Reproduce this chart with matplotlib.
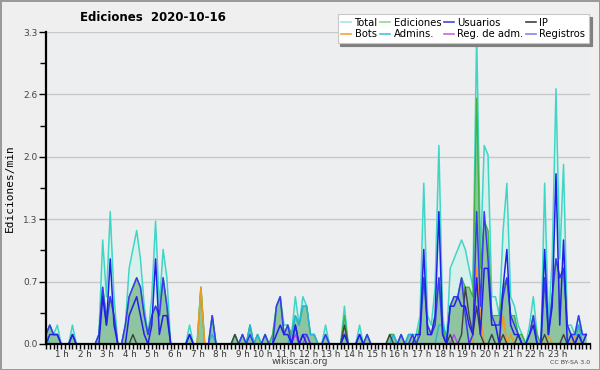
import matplotlib
matplotlib.use("Agg")
import matplotlib.pyplot as plt
from matplotlib.lines import Line2D
import numpy as np

# edits per minute, one value per 10-minute slot (6 per hour, 0 h .. 23 h)
total = [
    0.1, 0.2, 0.1, 0.2, 0.0, 0.0,
    0.0, 0.2, 0.0, 0.0, 0.0, 0.0,
    0.0, 0.0, 0.1, 1.1, 0.5, 1.4,
    0.5, 0.0, 0.0, 0.2, 0.8, 1.0,
    1.2, 0.9, 0.4, 0.1, 0.5, 1.3,
    0.4, 1.0, 0.7, 0.0, 0.0, 0.0,
    0.0, 0.0, 0.2, 0.0, 0.0, 0.6,
    0.0, 0.0, 0.3, 0.0, 0.0, 0.0,
    0.0, 0.0, 0.1, 0.0, 0.1, 0.0,
    0.2, 0.0, 0.1, 0.0, 0.1, 0.0,
    0.1, 0.4, 0.5, 0.2, 0.2, 0.1,
    0.5, 0.2, 0.5, 0.4, 0.1, 0.1,
    0.0, 0.0, 0.2, 0.0, 0.0, 0.0,
    0.0, 0.4, 0.0, 0.0, 0.0, 0.2,
    0.0, 0.1, 0.0, 0.0, 0.0, 0.0,
    0.0, 0.1, 0.1, 0.0, 0.1, 0.0,
    0.1, 0.1, 0.1, 0.3, 1.7, 0.3,
    0.2, 0.6, 2.1, 0.3, 0.0, 0.8,
    0.9, 1.0, 1.1, 1.0, 0.8, 0.6,
    3.3, 0.9, 2.1, 2.0, 0.5, 0.5,
    0.3, 1.2, 1.7, 0.5, 0.4, 0.2,
    0.1, 0.0, 0.2, 0.5, 0.1, 0.0,
    1.7, 0.2, 0.9, 2.7, 0.9, 1.9,
    0.2, 0.2, 0.1, 0.3, 0.1, 0.1,
]
ediciones = [
    0.1, 0.2, 0.1, 0.1, 0.0, 0.0,
    0.0, 0.1, 0.0, 0.0, 0.0, 0.0,
    0.0, 0.0, 0.1, 0.6, 0.3, 0.5,
    0.3, 0.0, 0.0, 0.2, 0.5, 0.6,
    0.7, 0.6, 0.3, 0.1, 0.3, 0.4,
    0.3, 0.7, 0.4, 0.0, 0.0, 0.0,
    0.0, 0.0, 0.1, 0.0, 0.0, 0.6,
    0.0, 0.0, 0.3, 0.0, 0.0, 0.0,
    0.0, 0.0, 0.1, 0.0, 0.1, 0.0,
    0.2, 0.0, 0.1, 0.0, 0.1, 0.0,
    0.1, 0.4, 0.5, 0.1, 0.2, 0.1,
    0.3, 0.2, 0.4, 0.4, 0.1, 0.1,
    0.0, 0.0, 0.1, 0.0, 0.0, 0.0,
    0.0, 0.3, 0.0, 0.0, 0.0, 0.1,
    0.0, 0.1, 0.0, 0.0, 0.0, 0.0,
    0.0, 0.1, 0.1, 0.0, 0.1, 0.0,
    0.1, 0.1, 0.0, 0.2, 0.7, 0.2,
    0.1, 0.3, 0.7, 0.2, 0.0, 0.4,
    0.5, 0.5, 0.7, 0.6, 0.6, 0.5,
    2.6, 0.8, 1.3, 1.2, 0.3, 0.3,
    0.3, 0.6, 0.7, 0.3, 0.3, 0.1,
    0.1, 0.0, 0.1, 0.3, 0.1, 0.0,
    0.7, 0.1, 0.5, 0.9, 0.7, 0.8,
    0.2, 0.1, 0.1, 0.2, 0.1, 0.1,
]
usuarios = [
    0.1, 0.2, 0.1, 0.1, 0.0, 0.0,
    0.0, 0.1, 0.0, 0.0, 0.0, 0.0,
    0.0, 0.0, 0.1, 0.6, 0.2, 0.5,
    0.3, 0.0, 0.0, 0.2, 0.5, 0.6,
    0.7, 0.6, 0.3, 0.1, 0.3, 0.4,
    0.3, 0.7, 0.4, 0.0, 0.0, 0.0,
    0.0, 0.0, 0.1, 0.0, 0.0, 0.0,
    0.0, 0.0, 0.3, 0.0, 0.0, 0.0,
    0.0, 0.0, 0.0, 0.0, 0.1, 0.0,
    0.1, 0.0, 0.0, 0.0, 0.1, 0.0,
    0.0, 0.4, 0.5, 0.1, 0.2, 0.0,
    0.2, 0.0, 0.1, 0.1, 0.0, 0.0,
    0.0, 0.0, 0.1, 0.0, 0.0, 0.0,
    0.0, 0.1, 0.0, 0.0, 0.0, 0.1,
    0.0, 0.1, 0.0, 0.0, 0.0, 0.0,
    0.0, 0.0, 0.0, 0.0, 0.1, 0.0,
    0.0, 0.1, 0.0, 0.1, 0.7, 0.2,
    0.1, 0.2, 0.7, 0.1, 0.0, 0.4,
    0.5, 0.5, 0.7, 0.3, 0.0, 0.1,
    1.4, 0.4, 1.4, 0.9, 0.3, 0.2,
    0.2, 0.5, 0.7, 0.3, 0.2, 0.1,
    0.0, 0.0, 0.1, 0.3, 0.0, 0.0,
    0.7, 0.1, 0.5, 0.9, 0.7, 0.8,
    0.2, 0.1, 0.1, 0.3, 0.1, 0.1,
]
registros = [
    0.0, 0.1, 0.1, 0.1, 0.0, 0.0,
    0.0, 0.1, 0.0, 0.0, 0.0, 0.0,
    0.0, 0.0, 0.0, 0.5, 0.2, 0.9,
    0.2, 0.0, 0.0, 0.0, 0.3, 0.4,
    0.5, 0.3, 0.1, 0.0, 0.2, 0.9,
    0.1, 0.3, 0.3, 0.0, 0.0, 0.0,
    0.0, 0.0, 0.1, 0.0, 0.0, 0.0,
    0.0, 0.0, 0.0, 0.0, 0.0, 0.0,
    0.0, 0.0, 0.0, 0.0, 0.0, 0.0,
    0.0, 0.0, 0.0, 0.0, 0.0, 0.0,
    0.0, 0.1, 0.2, 0.1, 0.1, 0.0,
    0.2, 0.0, 0.1, 0.0, 0.0, 0.0,
    0.0, 0.0, 0.0, 0.0, 0.0, 0.0,
    0.0, 0.1, 0.0, 0.0, 0.0, 0.1,
    0.0, 0.0, 0.0, 0.0, 0.0, 0.0,
    0.0, 0.0, 0.0, 0.0, 0.0, 0.0,
    0.0, 0.0, 0.1, 0.1, 1.0, 0.1,
    0.1, 0.3, 1.4, 0.1, 0.0, 0.4,
    0.4, 0.5, 0.4, 0.4, 0.2, 0.1,
    0.7, 0.1, 0.8, 0.8, 0.2, 0.2,
    0.0, 0.6, 1.0, 0.2, 0.1, 0.1,
    0.0, 0.0, 0.1, 0.2, 0.0, 0.0,
    1.0, 0.1, 0.4, 1.8, 0.2, 1.1,
    0.0, 0.1, 0.0, 0.1, 0.0, 0.1,
]
ip = [
    0.0, 0.0, 0.0, 0.0, 0.0, 0.0,
    0.0, 0.0, 0.0, 0.0, 0.0, 0.0,
    0.0, 0.0, 0.0, 0.0, 0.0, 0.0,
    0.0, 0.0, 0.0, 0.0, 0.0, 0.1,
    0.0, 0.0, 0.0, 0.0, 0.0, 0.0,
    0.0, 0.0, 0.0, 0.0, 0.0, 0.0,
    0.0, 0.0, 0.0, 0.0, 0.0, 0.0,
    0.0, 0.0, 0.0, 0.0, 0.0, 0.0,
    0.0, 0.0, 0.1, 0.0, 0.0, 0.0,
    0.0, 0.0, 0.0, 0.0, 0.0, 0.0,
    0.0, 0.0, 0.0, 0.0, 0.0, 0.0,
    0.0, 0.0, 0.0, 0.0, 0.0, 0.0,
    0.0, 0.0, 0.0, 0.0, 0.0, 0.0,
    0.0, 0.2, 0.0, 0.0, 0.0, 0.0,
    0.0, 0.0, 0.0, 0.0, 0.0, 0.0,
    0.0, 0.1, 0.0, 0.0, 0.0, 0.0,
    0.0, 0.0, 0.0, 0.0, 0.0, 0.0,
    0.0, 0.0, 0.0, 0.0, 0.0, 0.1,
    0.0, 0.0, 0.1, 0.6, 0.3, 0.1,
    0.4, 0.1, 0.0, 0.0, 0.1, 0.0,
    0.0, 0.1, 0.0, 0.0, 0.0, 0.1,
    0.0, 0.0, 0.0, 0.0, 0.0, 0.0,
    0.1, 0.0, 0.0, 0.0, 0.0, 0.1,
    0.0, 0.0, 0.0, 0.1, 0.0, 0.0,
]
bots = [0.0] * 41 + [0.6] + [0.0] * 72 + [0.8, 0.3] + [0.0] * 5 + [0.3, 0.0, 0.1] + [0.0] * 9 + [0.1] + [0.0] * 6 + [0.1] + [0.0] * 3
admins = [
    0.1, 0.0, 0.0, 0.0, 0.0, 0.0,
    0.0, 0.0, 0.0, 0.0, 0.0, 0.0,
    0.0, 0.0, 0.0, 0.0, 0.0, 0.0,
    0.0, 0.0, 0.0, 0.0, 0.0, 0.0,
    0.0, 0.0, 0.0, 0.0, 0.0, 0.0,
    0.0, 0.0, 0.0, 0.0, 0.0, 0.0,
    0.0, 0.0, 0.0, 0.0, 0.0, 0.0,
    0.0, 0.0, 0.1, 0.0, 0.0, 0.0,
    0.0, 0.0, 0.0, 0.0, 0.0, 0.0,
    0.2, 0.0, 0.1, 0.0, 0.0, 0.0,
    0.0, 0.0, 0.0, 0.0, 0.0, 0.1,
    0.3, 0.2, 0.4, 0.4, 0.1, 0.1,
    0.0, 0.0, 0.1, 0.0, 0.0, 0.0,
    0.0, 0.0, 0.0, 0.0, 0.0, 0.1,
    0.0, 0.0, 0.0, 0.0, 0.0, 0.0,
    0.0, 0.0, 0.1, 0.0, 0.0, 0.0,
    0.1, 0.1, 0.0, 0.0, 0.0, 0.0,
    0.0, 0.0, 0.2, 0.2, 0.1, 0.0,
    0.0, 0.0, 0.0, 0.0, 0.0, 0.0,
    0.0, 0.0, 0.0, 0.0, 0.1, 0.0,
    0.0, 0.0, 0.0, 0.0, 0.0, 0.1,
    0.0, 0.0, 0.0, 0.0, 0.0, 0.0,
    0.0, 0.0, 0.0, 0.0, 0.0, 0.0,
    0.0, 0.0, 0.0, 0.2, 0.0, 0.0,
]
reg_adm = [0.0] * 66 + [0.1, 0.0, 0.0, 0.1] + [0.0] * 38 + [0.1] + [0.0] * 35

hours = [f"{h} h" for h in range(1, 24)]

line_colors = {
    "Total": "#3fd6c6",
    "Ediciones": "#3fb43f",
    "Usuarios": "#3a3af2",
    "IP": "#404040",
    "Bots": "#f29a1a",
    "Admins.": "#22b4de",
    "Reg. de adm.": "#b445ee",
    "Registros": "#2020e8",
}
legend_colors = {
    "Total": "#a6e6e0",
    "Ediciones": "#8fd88f",
    "Usuarios": "#4646d6",
    "IP": "#404040",
    "Bots": "#f2a33c",
    "Admins.": "#3ec6da",
    "Reg. de adm.": "#d064e6",
    "Registros": "#8484f2",
}

x = np.arange(len(total))

fig = plt.figure(figsize=(6, 3.7), dpi=100, facecolor="#efefef",
                 edgecolor="#9a9a9a", linewidth=2)
ax = fig.add_axes([0.0767, 0.0703, 0.9066, 0.8432])
ax.set_facecolor("#edeef0")

ax.fill_between(x, total, color="#d8f0eb", lw=0, zorder=1)
ax.fill_between(x, ediciones, color="#8fc4a0", lw=0, zorder=2)
ax.plot(x, total, color=line_colors["Total"], lw=1.1, zorder=3)
ax.plot(x, ediciones, color=line_colors["Ediciones"], lw=1.0, zorder=4)
ax.plot(x, admins, color=line_colors["Admins."], lw=1.0, zorder=5)
ax.plot(x, reg_adm, color=line_colors["Reg. de adm."], lw=1.0, zorder=5)
ax.plot(x, bots, color=line_colors["Bots"], lw=1.1, zorder=6)
ax.plot(x, ip, color=line_colors["IP"], lw=1.0, zorder=6)
ax.plot(x, usuarios, color=line_colors["Usuarios"], lw=1.1, zorder=7)
ax.plot(x, registros, color=line_colors["Registros"], lw=1.1, zorder=8)

ymax = 3.3
ax.set_ylim(0, ymax)
ax.set_xlim(0, len(total) - 0.8)
major = np.linspace(0, ymax, 6)
ax.set_yticks(major)
ax.set_yticklabels([f"{v:.1f}" for v in major])
ax.set_yticks(major[:-1] + ymax / 10, minor=True)
ax.yaxis.grid(True, color="#c8c8c8", lw=1)
ax.set_axisbelow(True)

ax.set_xticks(np.arange(6, 144, 6))
ax.set_xticklabels(hours, ha="right")
ax.set_xticks(np.arange(0, 145), minor=True)

for side in ["top", "right"]:
    ax.spines[side].set_visible(False)
for side in ["left", "bottom"]:
    ax.spines[side].set_linewidth(1.6)
    ax.spines[side].set_zorder(10)

ax.tick_params(axis="y", which="major", length=5, width=1, labelsize=6.5,
               labelcolor="#444444", pad=1)
ax.tick_params(axis="y", which="minor", length=4, width=1)
ax.tick_params(axis="x", which="both", length=3.5, width=1, labelsize=6.3,
               labelcolor="#333333", pad=0.5)

ax.set_ylabel("Ediciones/min", family="DejaVu Sans Mono", fontsize=8,
              labelpad=6)

fig.text(0.255, 0.953, "Ediciones  2020-10-16", fontsize=8.5,
         fontweight="bold", ha="center", va="center")
fig.text(0.5, 0.022, "wikiscan.org", fontsize=6.5, color="#444444",
         ha="center", va="center")
fig.text(0.983, 0.02, "CC BY-SA 3.0", fontsize=4.5, color="#444444",
         ha="right", va="center")

order = ["Total", "Bots", "Ediciones", "Admins.", "Usuarios",
         "Reg. de adm.", "IP", "Registros"]
handles = [Line2D([], [], color=legend_colors[k], lw=1.2) for k in order]
leg = fig.legend(handles, order, ncol=4, loc="upper right",
                 bbox_to_anchor=(0.99, 0.975), fontsize=7.2,
                 handlelength=1.0, handletextpad=0.35, columnspacing=0.25,
                 labelspacing=0.15, borderpad=0.35, frameon=True,
                 fancybox=False, shadow={"color": "#808080", "alpha": 1},
                 edgecolor="#c8c8c8", framealpha=1)
leg.get_frame().set_linewidth(0.8)

fig.savefig("out.png", dpi=100, facecolor=fig.get_facecolor(),
            edgecolor=fig.get_edgecolor())
